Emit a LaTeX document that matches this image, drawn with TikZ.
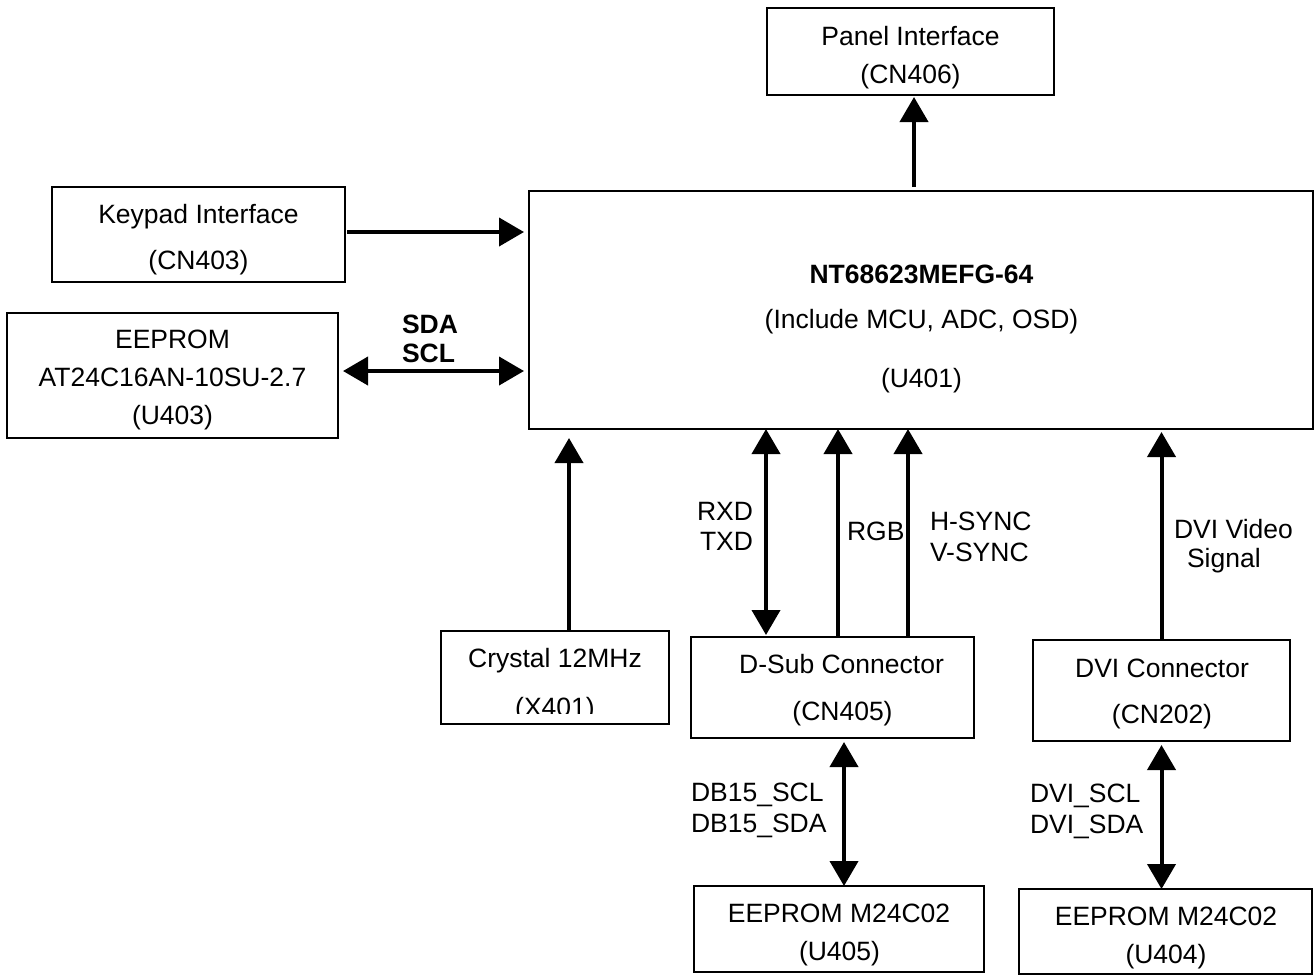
\documentclass[tikz,border=0pt]{standalone}
\usepackage{fontspec}
\setmainfont{Liberation Sans}
\usetikzlibrary{arrows.meta}
\begin{document}
\begin{tikzpicture}[x=0.5pt,y=-0.5pt,
  every node/.style={font=\fontsize{13.25pt}{16pt}\selectfont, inner sep=0pt, outer sep=0pt},
  box/.style={draw, line width=0.8pt, rectangle},
  txt/.style={anchor=base},
  txtl/.style={anchor=base west},
  txtr/.style={anchor=base east},
  arr/.style={line width=2pt, -{Triangle[length=12.5pt,width=14pt]}},
  dbl/.style={line width=2pt, {Triangle[length=12.5pt,width=14pt]}-{Triangle[length=12.5pt,width=14pt]}}]
\useasboundingbox (0,0) rectangle (1315,976);
% boxes
\node[box, minimum width=287*0.5pt, minimum height=87*0.5pt] (panel) at (910.5,51.5) {};
\node[box, minimum width=784*0.5pt, minimum height=238*0.5pt] (main) at (921,310) {};
\node[box, minimum width=293*0.5pt, minimum height=95*0.5pt] (keypad) at (198.5,234.5) {};
\node[box, minimum width=331*0.5pt, minimum height=125*0.5pt] (eeprom) at (172.5,375.5) {};
\node[box, minimum width=228*0.5pt, minimum height=93*0.5pt] (crystal) at (555,677.5) {};
\node[box, minimum width=283*0.5pt, minimum height=101*0.5pt] (dsub) at (832.5,687.5) {};
\node[box, minimum width=257*0.5pt, minimum height=101*0.5pt] (dvi) at (1161.5,690.5) {};
\node[box, minimum width=290*0.5pt, minimum height=86*0.5pt] (u405) at (839,929) {};
\node[box, minimum width=293*0.5pt, minimum height=85*0.5pt] (u404) at (1165.5,931.5) {};
% box texts
\node[txt] (panelA) at (910.5,45) {Panel Interface};
\node[txt] (panelB) at (910.5,83) {(CN406)};
\node[txt] (keyA) at (198.5,223) {Keypad Interface};
\node[txt] (keyB) at (198.5,269) {(CN403)};
\node[txt] (eeA) at (172.5,348) {EEPROM};
\node[txt] (eeB) at (172.5,386) {AT24C16AN-10SU-2.7};
\node[txt] (eeC) at (172.5,424) {(U403)};
\node[txt, font=\fontsize{13.25pt}{16pt}\selectfont\bfseries] (mainA) at (921.5,283) {NT68623MEFG-64};
\node[txt] (mainB) at (921.5,328) {(Include MCU, ADC, OSD)};
\node[txt] (mainC) at (921.5,387) {(U401)};
\node[txt] (crA) at (555,667) {Crystal 12MHz};
\begin{scope}
  \clip ([yshift=5.5pt]crystal.south west) rectangle (crystal.north east);
  \node[txt] (crB) at (555,716) {(X401)};
\end{scope}
\node[txt] (dsA) at (841.5,673) {D-Sub Connector};
\node[txt] (dsB) at (842.5,720) {(CN405)};
\node[txt] (dvA) at (1162,677) {DVI Connector};
\node[txt] (dvB) at (1162,723) {(CN202)};
\node[txt] (u5A) at (839,922) {EEPROM M24C02};
\node[txt] (u5B) at (839.5,960) {(U405)};
\node[txt] (u4A) at (1166,925) {EEPROM M24C02};
\node[txt] (u4B) at (1166,963) {(U404)};
% connector labels
\node[txtl, font=\fontsize{13.25pt}{16pt}\selectfont\bfseries] (sda) at (402,333) {SDA};
\node[txtl, font=\fontsize{13.25pt}{16pt}\selectfont\bfseries] (scl) at (402,362) {SCL};
\node[txtr] (rxd) at (753,520) {RXD};
\node[txtr] (txd) at (753,550) {TXD};
\node[txtl] (rgb) at (847,540) {RGB};
\node[txtl] (hs) at (930,530) {H-SYNC};
\node[txtl] (vs) at (930,561) {V-SYNC};
\node[txtl] (dvv) at (1174,538) {DVI Video};
\node[txtl] (dvs) at (1187,567) {Signal};
\node[txtl] (dbscl) at (691,801) {DB15\_SCL};
\node[txtl] (dbsda) at (691,832) {DB15\_SDA};
\node[txtl] (dvscl) at (1030,802) {DVI\_SCL};
\node[txtl] (dvsda) at (1030,833) {DVI\_SDA};
% connectors
\draw[arr, shorten <=2pt, shorten >=1pt] ([xshift=1.75pt]panel.south |- main.north) -- ([xshift=1.75pt]panel.south);
\draw[arr, shorten <=1pt, shorten >=2.5pt] ([yshift=1.25pt]keypad.east) -- ([yshift=1.25pt]keypad.east -| main.west);
\draw[dbl, shorten <=2.5pt, shorten >=2.5pt] ([yshift=2.25pt]eeprom.east) -- ([yshift=2.25pt]eeprom.east -| main.west);
\draw[arr, shorten >=4.5pt] ([xshift=7pt]crystal.north) -- ([xshift=7pt]crystal.north |- main.south);
\draw[dbl, shorten <=1pt] ([xshift=-33.25pt]dsub.north) -- ([xshift=-33.25pt]dsub.north |- main.south);
\draw[arr] ([xshift=2.75pt]dsub.north) -- ([xshift=2.75pt]dsub.north |- main.south);
\draw[arr] ([xshift=37.75pt]dsub.north) -- ([xshift=37.75pt]dsub.north |- main.south);
\draw[arr, shorten >=1.5pt] (dvi.north) -- (dvi.north |- main.south);
\draw[dbl, shorten <=2pt] ([xshift=5.75pt]dsub.south) -- ([xshift=5.75pt]dsub.south |- u405.north);
\draw[dbl, shorten <=2pt] (dvi.south) -- (dvi.south |- u404.north);
\end{tikzpicture}
\end{document}
